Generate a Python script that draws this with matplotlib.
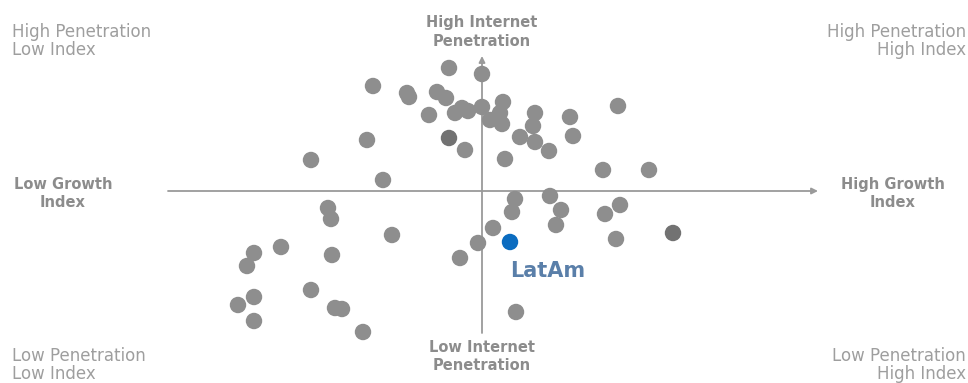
import numpy as np
import matplotlib.pyplot as plt

# Growth index (x) vs internet penetration (y), centred on the regional averages
growth = [-3.3, 0.0, -10.9, -7.5, -7.3, -4.5, -3.6, -5.3, -2.7, -2.0, -1.4,
          0.0, 0.8, 2.1, 1.8, 2.0, 5.3, 5.1, 8.8, 13.6, 3.8, 5.3, 6.7, 9.1,
          2.3, 12.1, 16.7, -11.5, -1.7, -17.1, -9.9,
          3.3, 6.8, 3.0, 7.9, 13.8, 12.3, 1.1, 7.4, -0.4, 13.4,
          -9.0, -2.2, 3.4, -15.4, -15.1, -22.8, -20.1, -23.5, -15.0, -17.1,
          -22.8, -24.4, -22.8, -14.7, -14.0, -11.9]
penetration = [12.3, 11.7, 10.5, 9.8, 9.4, 9.9, 9.3, 7.6, 7.8, 8.3, 8.0,
               8.4, 7.1, 8.9, 7.8, 6.7, 7.8, 6.5, 7.4, 8.5, 5.4, 4.9, 4.0, 5.5,
               3.2, 2.1, 2.1, 5.1, 4.1, 3.1, 1.1,
               -0.8, -0.5, -2.1, -1.9, -1.4, -2.3, -3.7, -3.4, -5.2, -4.8,
               -4.4, -6.7, -12.1, -1.7, -2.8, -6.2, -5.6, -7.5, -6.4, -9.9,
               -10.6, -11.4, -13.0, -11.7, -11.8, -14.1]
dark = [(-3.3, 5.3), (19.1, -4.2)]
latam = (2.8, -5.1)

fig = plt.figure(figsize=(9.68, 3.83), dpi=100)
ax = fig.add_axes([0, 0, 1, 1])
ax.set_xlim(-48.2, 48.6)
ax.set_ylim(-19.2, 19.1)
ax.axis('off')

# quadrant axes with arrowheads
axis_col = '#9a9a9a'
ax.annotate('', xy=(33.6, 0), xytext=(-31.4, 0),
            arrowprops=dict(arrowstyle='-|>', color=axis_col, lw=1.3,
                            mutation_scale=9, shrinkA=0, shrinkB=0))
ax.annotate('', xy=(0, 13.5), xytext=(0, -14.2),
            arrowprops=dict(arrowstyle='-|>', color=axis_col, lw=1.3,
                            mutation_scale=9, shrinkA=0, shrinkB=0))

dot = 140
ax.scatter(growth, penetration, s=dot, color='#8e8e8e', edgecolors='none', zorder=3)
ax.scatter([p[0] for p in dark], [p[1] for p in dark], s=dot, color='#727272',
           edgecolors='none', zorder=3)
ax.scatter([latam[0]], [latam[1]], s=dot, color='#0b6cc0', edgecolors='none', zorder=4)
ax.text(latam[0], latam[1] - 2.9, 'LatAm', color='#5a7fa9', fontsize=15,
        fontweight='bold', ha='left', va='center')

# axis titles
bold = dict(color='#8c8c8c', fontsize=10.5, fontweight='bold', ha='center',
            va='center', linespacing=1.25)
ax.text(0, 15.9, 'High Internet\nPenetration', **bold)
ax.text(0, -16.6, 'Low Internet\nPenetration', **bold)
ax.text(-41.9, -0.3, 'Low Growth\nIndex', **bold)
ax.text(41.1, -0.3, 'High Growth\nIndex', **bold)

# quadrant descriptions
corner = dict(color='#9e9e9e', fontsize=12, linespacing=1.05)
ax.text(-47.0, 15.0, 'High Penetration\nLow Index', ha='left', va='center', **corner)
ax.text(48.4, 15.0, 'High Penetration\nHigh Index', ha='right', va='center', **corner)
ax.text(-47.0, -17.4, 'Low Penetration\nLow Index', ha='left', va='center', **corner)
ax.text(48.4, -17.4, 'Low Penetration\nHigh Index', ha='right', va='center', **corner)

fig.savefig('out.png', dpi=100)
